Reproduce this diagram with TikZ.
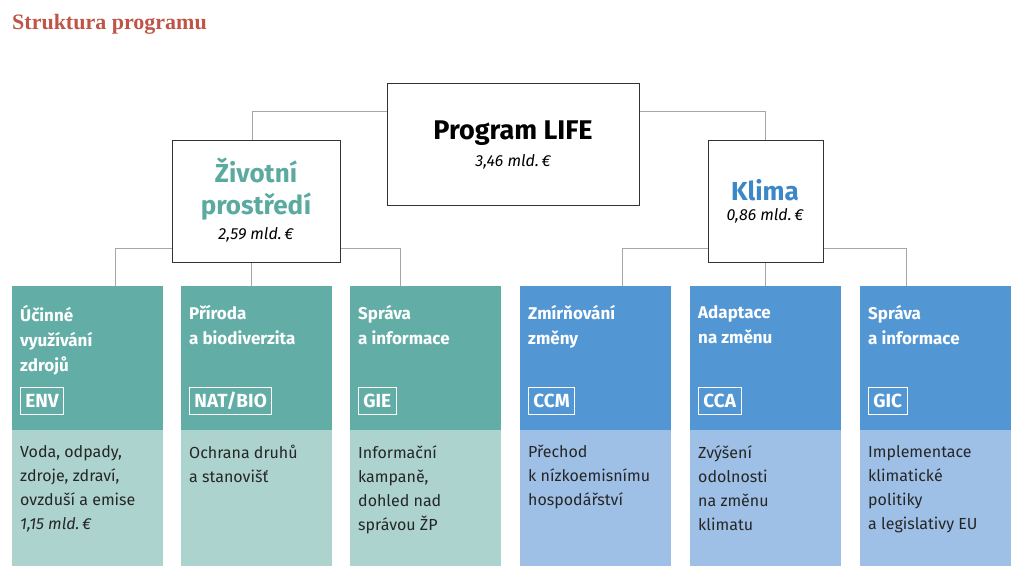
\documentclass[tikz,border=0pt]{standalone}
\usepackage{fontspec}
\setmainfont{Fira Sans}
\newfontfamily\titlefont{Liberation Serif}
\begin{document}
\begin{tikzpicture}[x=1pt,y=-1pt,
  conn/.style={draw=gray!70,line width=0.8pt},
  wbox/.style={draw=black!80,fill=white,line width=0.8pt},
  head/.style={anchor=north west,align=left,text=white,inner sep=0pt,font=\bfseries\fontsize{17}{25}\selectfont},
  body/.style={anchor=north west,align=left,text=black!85,inner sep=0pt,font=\fontsize{16}{24}\selectfont},
  tag/.style={anchor=north west,draw=white,line width=0.8pt,text=white,font=\bfseries\fontsize{19}{20}\selectfont,inner xsep=5pt,inner ysep=3pt,minimum height=27pt}]
\useasboundingbox (0,0) rectangle (1024,577);
\fill[white] (0,0) rectangle (1024,577);
\node[anchor=west,inner sep=0pt,text={rgb,255:red,190;green,85;blue,70},font=\titlefont\bfseries\fontsize{22}{24}\selectfont] (title) at (12,24) {Struktura programu};
% connectors
\coordinate (tl) at (252,111); \coordinate (tr) at (765,111);
\coordinate (gl) at (115,248); \coordinate (gr) at (400,248);
\coordinate (bl) at (622,248); \coordinate (br) at (906,248);
\draw[conn] (387,111) -- (tl) -- (252,140);
\draw[conn] (639,111) -- (tr) -- (765,140);
\draw[conn] (115,286) -- (gl) -- (gr) -- (400,286);
\draw[conn] (251,248) -- (251,286);
\draw[conn] (622,286) -- (bl) -- (br) -- (906,286);
\draw[conn] (765,248) -- (765,286);
% boxes
\draw[wbox] (387,83) rectangle (639,205);
\node[font=\bfseries\fontsize{27}{30}\selectfont] (life) at (513,133) {Program LIFE};
\node[font=\itshape\fontsize{16}{18}\selectfont] (lifev) at (513,162) {3,46 mld.\,€};
\draw[wbox] (172,140) rectangle (340,262);
\node[align=center,text={rgb,255:red,90;green,170;blue,160},font=\bfseries\fontsize{26}{32}\selectfont] (zp) at (256,189) {Životní\\prostředí};
\node[font=\itshape\fontsize{16}{18}\selectfont] (zpv) at (256,235) {2,59 mld.\,€};
\draw[wbox] (708,140) rectangle (823,262);
\node[text={rgb,255:red,60;green,135;blue,200},font=\bfseries\fontsize{26}{30}\selectfont] (kl) at (765,190) {Klima};
\node[font=\itshape\fontsize{16}{18}\selectfont] (klv) at (765,216) {0,86 mld.\,€};
% columns
\definecolor{gd}{RGB}{98,174,166}\definecolor{gl}{RGB}{172,211,205}
\definecolor{bd}{RGB}{82,150,212}\definecolor{bli}{RGB}{158,192,231}
\foreach \x/\dc/\lc/\h/\t/\b in {
 12/gd/gl/{Účinné\\využívání\\zdrojů}/ENV/{Voda, odpady,\\zdroje, zdraví,\\ovzduší a emise\\\textit{1,15 mld.\,€}},
 181/gd/gl/{Příroda\\a biodiverzita}/NAT\slash BIO/{Ochrana druhů\\a stanovišť},
 350/gd/gl/{Správa\\a informace}/GIE/{Informační\\kampaně,\\dohled nad\\správou ŽP},
 520/bd/bli/{Zmírňování\\změny}/CCM/{Přechod\\k nízkoemisnímu\\hospodářství},
 690/bd/bli/{Adaptace\\na změnu}/CCA/{Zvýšení\\odolnosti\\na změnu\\klimatu},
 860/bd/bli/{Správa\\a informace}/GIC/{Implementace\\klimatické\\politiky\\a legislativy EU}}{
 \fill[\dc] (\x,286) rectangle (\x+151,430);
 \fill[\lc] (\x,430) rectangle (\x+151,566);
 \node[head] at (\x+8,305) {\h};
 \node[tag] at (\x+8,387) {\t};
 \node[body] at (\x+8,445) {\b};
}
\end{tikzpicture}
\end{document}
